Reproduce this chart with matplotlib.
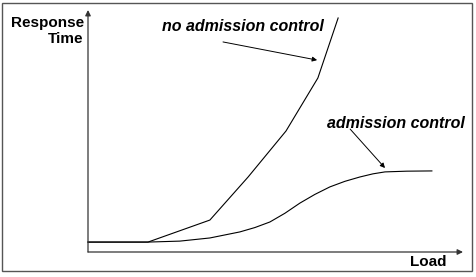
import matplotlib.pyplot as plt
from matplotlib.patches import Rectangle

# curve data, load (0-100) vs response time (0-100)
no_ac_load = [0, 16.0, 32.5, 42.7, 52.8, 61.3, 66.7]
no_ac_resp = [4.1, 4.1, 13.2, 31.0, 50.0, 71.9, 96.7]

ac_load = [0, 16.0, 24.5, 32.5, 40.5, 44.5, 48.5, 52.5, 56.5, 60.5, 64.5, 68.5, 72.5, 76.0, 79.2, 85.0, 91.7]
ac_resp = [4.1, 4.1, 4.5, 5.8, 8.3, 10.1, 12.4, 16.0, 20.2, 23.8, 26.9, 29.2, 31.0, 32.3, 33.1, 33.4, 33.5]

plt.rcParams['font.family'] = ['Liberation Sans', 'DejaVu Sans']

W, H = 476, 277
fig = plt.figure(figsize=(W / 100, H / 100), dpi=100)
# axes from pixel (88,252) to (463,10)
ax = fig.add_axes([88 / W, (H - 252) / H, 375 / W, 242 / H])
ax.set_xlim(0, 100)
ax.set_ylim(0, 100)
ax.axis('off')

# outer frame
fig.patches.append(Rectangle((2 / W, (H - 271) / H), 470 / W, 268 / H,
                             transform=fig.transFigure, fill=False,
                             edgecolor='#555555', linewidth=1))

# axes with arrow heads
axis_col = '#333333'
ax.annotate('', xy=(0, 100), xytext=(0, 0), annotation_clip=False,
            arrowprops=dict(arrowstyle='-|>', color=axis_col, lw=0.9, mutation_scale=8, shrinkA=0, shrinkB=0))
ax.annotate('', xy=(100, 0), xytext=(0, 0), annotation_clip=False,
            arrowprops=dict(arrowstyle='-|>', color=axis_col, lw=0.9, mutation_scale=8, shrinkA=0, shrinkB=0))

ax.plot(no_ac_load, no_ac_resp, color='black', lw=0.8, clip_on=False)
ax.plot(ac_load, ac_resp, color='black', lw=0.8, clip_on=False)

ax.text(-1.1, 97.5, 'Response\nTime', ha='right', va='top', fontsize=11,
        fontweight='bold', linespacing=1.15, clip_on=False)
ax.text(95.7, -4.1, 'Load', ha='right', va='center', fontsize=11,
        fontweight='bold', clip_on=False)

ax.text(19.7, 93.0, 'no admission control', ha='left', va='center', fontsize=11.5,
        fontweight='bold', fontstyle='italic', clip_on=False)
ax.annotate('', xy=(61.1, 79.3), xytext=(36.0, 86.8),
            arrowprops=dict(arrowstyle='-|>', color='black', lw=0.7, mutation_scale=7, shrinkA=0, shrinkB=0))

ax.text(63.7, 53.3, 'admission control', ha='left', va='center', fontsize=11.5,
        fontweight='bold', fontstyle='italic', clip_on=False)
ax.annotate('', xy=(79.2, 34.7), xytext=(69.9, 50.8),
            arrowprops=dict(arrowstyle='-|>', color='black', lw=0.7, mutation_scale=7, shrinkA=0, shrinkB=0))

fig.savefig('out.png', dpi=100)
